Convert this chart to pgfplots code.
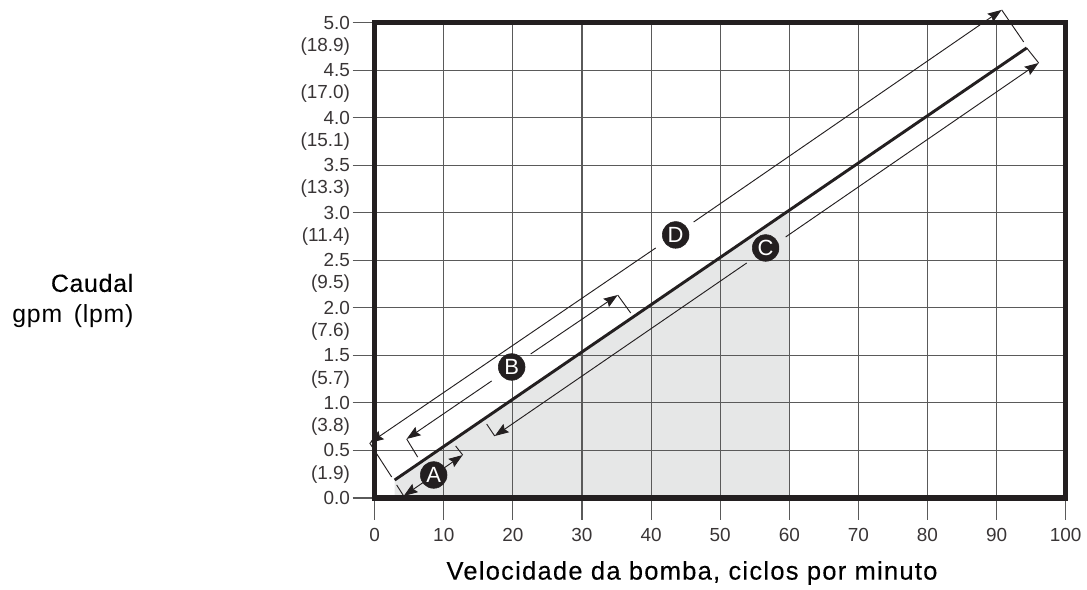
\documentclass[border=0pt]{standalone}
\usepackage{fontspec}
\setmainfont{Liberation Sans}
\newfontface\spaced[LetterSpace=5,FakeBold=0.25]{Liberation Sans}
\newfontface\plainlbl[LetterSpace=3]{Liberation Sans}
\newfontface\boldlbl[LetterSpace=3,FakeBold=0.25]{Liberation Sans}
\usepackage{pgfplots}
\pgfplotsset{compat=1.18}
\usetikzlibrary{arrows.meta}
\definecolor{ink}{HTML}{231F20}
\definecolor{gridc}{HTML}{5A5A5A}
\definecolor{areac}{HTML}{E6E7E7}
\tikzset{
  tip/.tip={Stealth[length=10.5pt,width=7.5pt,inset=1.5pt]},
  dimline/.style={ink,line width=0.7pt},
  arr/.style={-tip},
  extline/.style={ink,line width=0.7pt},
}
\begin{document}
\begin{tikzpicture}
\path (0pt,0pt) rectangle (815.25pt,439.5pt);
\begin{axis}[
  at={(281pt,66pt)}, anchor=south west,
  scale only axis, width=518.25pt, height=356.5pt,
  xmin=0, xmax=100, ymin=0, ymax=5,
  clip=false, set layers=standard,
  xtick pos=bottom, ytick pos=left,
  xtick={0,10,...,100},
  ytick={0,0.5,1,1.5,2,2.5,3,3.5,4,4.5,5},
  yticklabels={0.0,0.5,1.0,1.5,2.0,2.5,3.0,3.5,4.0,4.5,5.0},
  extra y ticks={0.25,0.75,1.25,1.75,2.25,2.75,3.25,3.75,4.25,4.75},
  extra y tick labels={(1.9),(3.8),(5.7),(7.6),(9.5),(11.4),(13.3),(15.1),(17.0),(18.9)},
  extra tick style={grid=none, tick style={draw=none}},
  grid=major,
  grid style={gridc,line width=0.8pt},
  tick style={gridc,line width=0.8pt},
  tick align=outside,
  major tick length=16.5pt,
  axis line style={ink,line width=3.8pt},
  tick label style={font=\fontsize{14.2}{16}\selectfont,text=ink!90},
  /pgf/number format/assume math mode=true,
  yticklabel style={xshift=1.5pt},
  xticklabel style={yshift=-2.5pt},
]
% area below 60 cpm
\addplot[draw=none,fill=areac,on layer=axis background] coordinates {(2.89,0.189) (60,3.027) (60,0) (2.89,0)} -- cycle;
% pump line
\addplot[ink,line width=2.2pt] coordinates {(2.89,0.189) (94.36,4.734)};
% A
\addplot[extline] coordinates {(3.18,0.137) (4.2,0.021)};
\addplot[extline] coordinates {(11.72,0.547) (12.74,0.452)};
\addplot[dimline,tip-tip] coordinates {(4.2,0.021) (12.74,0.452)};
% B
\addplot[extline] coordinates {(6.22,0.431) (4.63,0.621)};
\addplot[dimline,arr] coordinates {(16.93,1.231) (4.63,0.621)};
\addplot[dimline,arr] coordinates {(22.58,1.515) (35.17,2.135)};
\addplot[extline] coordinates {(35.17,2.135) (37.05,1.946)};
% C
\addplot[extline] coordinates {(16.21,0.778) (17.37,0.652)};
\addplot[dimline,arr] coordinates {(53.84,2.472) (17.37,0.652)};
\addplot[dimline,arr] coordinates {(59.48,2.746) (96.09,4.576)};
\addplot[extline] coordinates {(96.09,4.576) (94.36,4.734)};
% D
\addplot[extline] coordinates {(2.46,0.221) (-0.72,0.579)};
\addplot[dimline,arr] coordinates {(40.67,2.630) (-0.72,0.579)};
\addplot[dimline,arr] coordinates {(46.16,2.903) (90.74,5.134)};
\addplot[extline] coordinates {(90.74,5.134) (93.92,4.797)};
% letter badges
\addplot[only marks,mark=*,mark size=10pt,mark options={ink},
  nodes near coords,point meta=explicit symbolic,
  every node near coord/.style={anchor=center,text=white,font=\fontsize{16.5}{18}\selectfont}]
  table[meta=l] {
  x y l
  8.54 0.242 A
  19.83 1.378 B
  56.58 2.630 C
  43.56 2.767 D
  };
\end{axis}
\node[anchor=east,text=black] at (103.5pt,227.25pt) {\fontsize{18.6}{20}\boldlbl Caudal};
\node[anchor=east,text=black] at (103.5pt,202.5pt) {\fontsize{18.6}{20}\plainlbl gpm\hspace{3pt} (lpm)};
\node[anchor=center,text=black] at (519pt,9.75pt) {\fontsize{19.1}{22}\spaced Velocidade da bomba, ciclos por minuto};
\end{tikzpicture}
\end{document}
